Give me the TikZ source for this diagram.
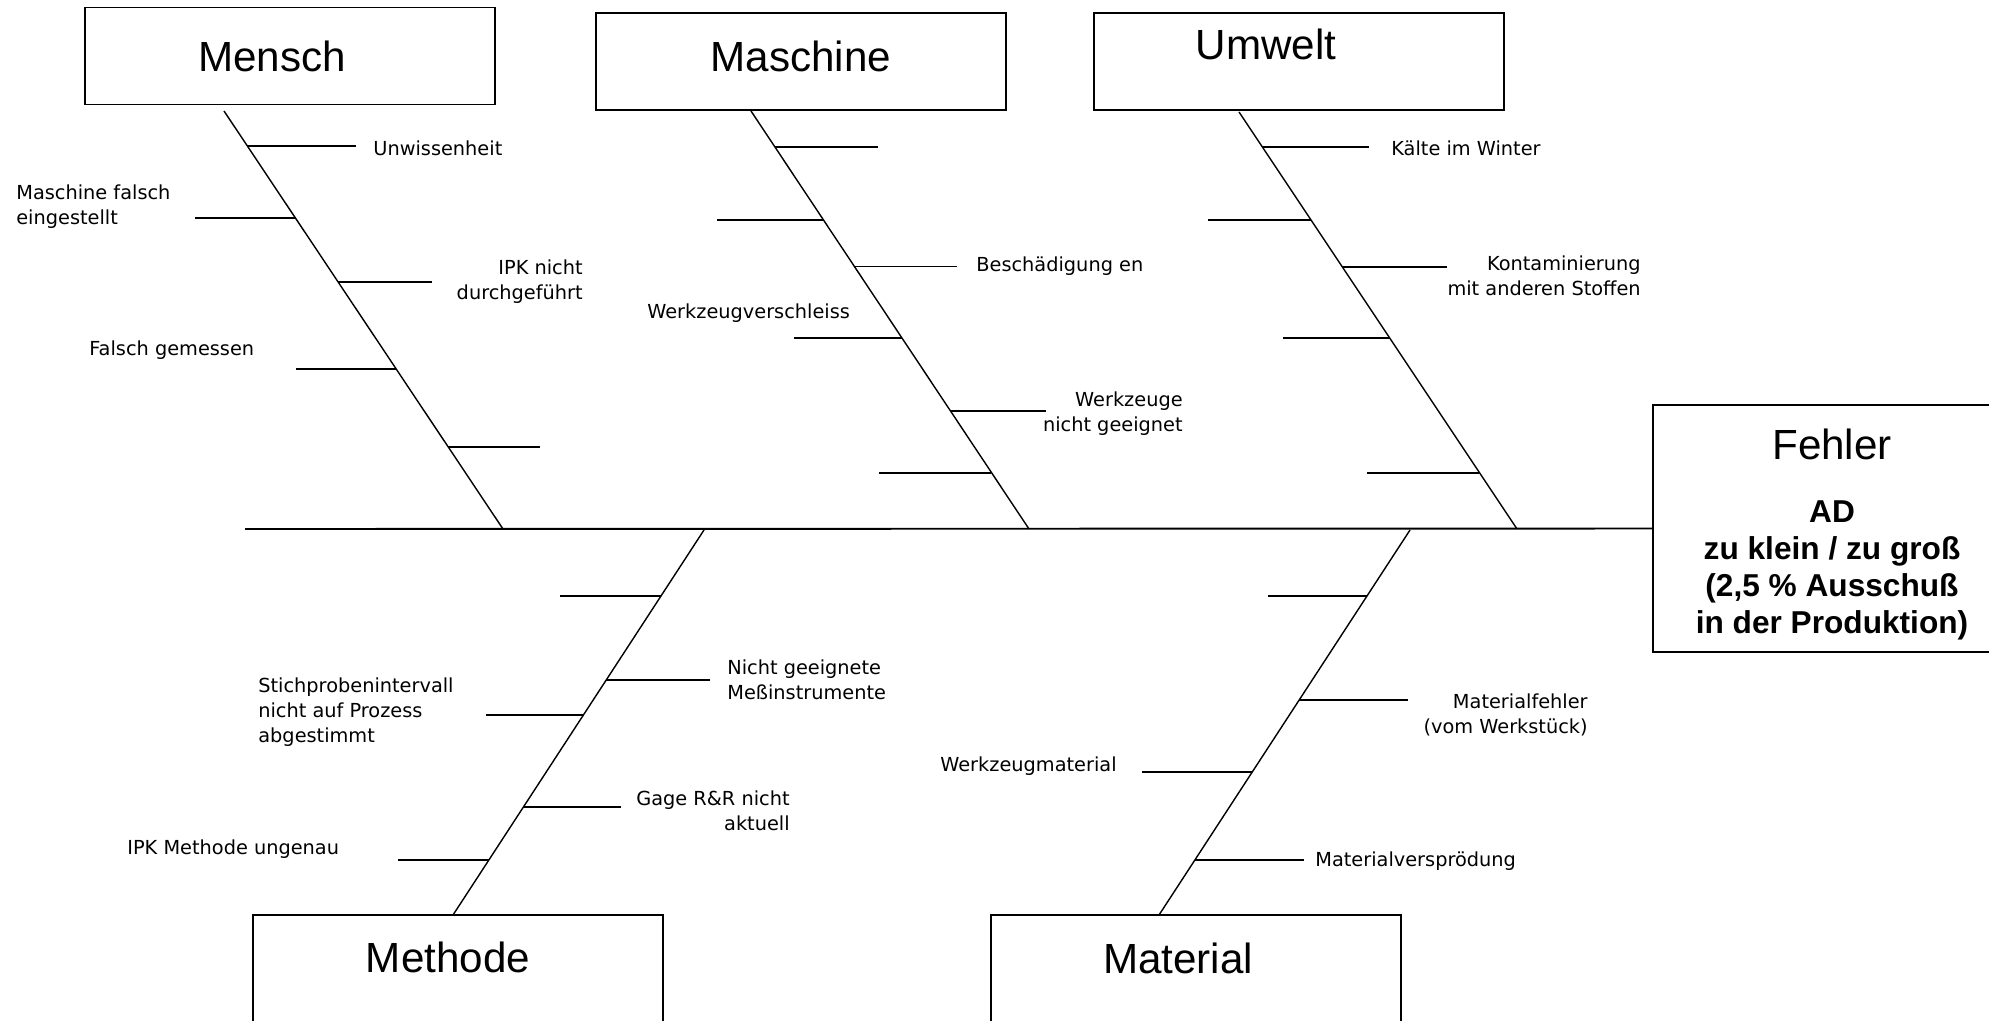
\documentclass[tikz,border=0pt]{standalone}
\usepackage{fontspec}
\setmainfont{Liberation Sans}
\newfontfamily\causefont{DejaVu Sans}
\usetikzlibrary{calc,positioning}

\begin{document}
\begin{tikzpicture}[
catbox/.style={draw, line width=1.1pt, minimum width=8.2cm, minimum height=1.94cm, inner sep=0pt},
lowbox/.style={catbox, minimum height=2.2cm},
cattitle/.style={font=\fontsize{24}{28}\selectfont},
bone/.style={line width=0.8pt},
rib/.style={line width=1.1pt},
cause/.style={font=\causefont\fontsize{11}{14.2}\selectfont, inner sep=0pt}
]

\useasboundingbox (0,0) rectangle (39.78,-20.40);

% ================= BOXES =================
\node[catbox, label={[cattitle, xshift=-0.36cm]center:Mensch}] (mensch) at (5.80,-1.12) {};
\node[catbox, label={[cattitle, yshift=0.11cm]center:Maschine}] (maschine) at (16.02,-1.23) {};
\node[catbox, label={[cattitle, xshift=-0.66cm, yshift=0.35cm]center:Umwelt}] (umwelt) at (25.98,-1.23) {};
\node[lowbox, label={[cattitle, xshift=-0.20cm, yshift=0.26cm]center:Methode}] (methode) at (9.16,-19.40) {};
\node[lowbox, label={[cattitle, xshift=-0.36cm, yshift=0.24cm]center:Material}] (material) at (23.92,-19.40) {};

% Effect
\node[draw, line width=1.1pt, minimum width=6.84cm, minimum height=4.94cm,
label={[align=center, font=\bfseries\fontsize{18}{21}\selectfont, xshift=0.16cm, yshift=-0.12cm]center:
{\mdseries\fontsize{24}{28}\selectfont Fehler}\\[14.7pt]AD\\zu klein / zu groß\\(2,5 \% Ausschuß\\in der Produktion)}]
(fehler) at (36.48,-10.57) {};

% Spine
\coordinate (tail) at (4.90,-10.58);
\draw[line width=1.1pt] (tail) -- (fehler.west);

% ================= UPPER BONES =================
\coordinate (menschTop) at (4.48,-2.22);
\coordinate (menschEnd) at (10.06,-10.58);
\draw[bone] (menschTop) -- (menschEnd);
\foreach \t/\len in {0.083/2.18, 0.257/-2.02, 0.410/1.87, 0.618/-2.00, 0.803/1.84}
\draw[rib] ($(menschTop)!\t!(menschEnd)$) -- ++(\len,0);

\coordinate (maschineTop) at (15.02,-2.22);
\coordinate (maschineEnd) at (20.58,-10.58);
\draw[bone] (maschineTop) -- (maschineEnd);
\foreach \t/\len in {0.085/2.07, 0.260/-2.12, 0.372/2.05, 0.544/-2.17, 0.717/1.92, 0.865/-2.25}
\draw[rib] ($(maschineTop)!\t!(maschineEnd)$) -- ++(\len,0);

\coordinate (umweltTop) at (24.78,-2.24);
\coordinate (umweltEnd) at (30.34,-10.58);
\draw[bone] (umweltTop) -- (umweltEnd);
\foreach \t/\len in {0.083/2.14, 0.258/-2.05, 0.372/2.09, 0.543/-2.14, 0.865/-2.25}
\draw[rib] ($(umweltTop)!\t!(umweltEnd)$) -- ++(\len,0);

% ================= LOWER BONES =================
\coordinate (methodeStart) at (14.08,-10.60);
\coordinate (methodeFoot) at (9.06,-18.30);
\draw[bone] (methodeStart) -- (methodeFoot);
\foreach \t/\len in {0.172/-2.01, 0.389/2.08, 0.480/-1.96, 0.720/1.95, 0.858/-1.82}
\draw[rib] ($(methodeStart)!\t!(methodeFoot)$) -- ++(\len,0);

\coordinate (materialStart) at (28.20,-10.60);
\coordinate (materialFoot) at (23.18,-18.30);
\draw[bone] (materialStart) -- (materialFoot);
\foreach \t/\len in {0.171/-1.98, 0.441/2.18, 0.629/-2.21, 0.858/2.18}
\draw[rib] ($(materialStart)!\t!(materialFoot)$) -- ++(\len,0);

% ================= CAUSES =================
\node[cause, anchor=west] (unwissen) at (7.46,-2.96) {Unwissenheit};
\node[cause, anchor=west, align=left] (falschEin) at (0.32,-4.14) {Maschine falsch\\eingestellt};
\node[cause, anchor=east, align=right] (ipkNicht) at (11.66,-5.63) {IPK nicht\\durchgeführt};
\node[cause, anchor=west] (falschGem) at (1.78,-7.00) {Falsch gemessen};

\node[cause, anchor=west] (beschaed) at (19.52,-5.32) {Beschädigung en};
\node[cause, anchor=west] (verschleiss) at (12.94,-6.26) {Werkzeugverschleiss};
\node[cause, anchor=east, align=right] (ungeeignet) at (23.66,-8.27) {Werkzeuge\\nicht geeignet};

\node[cause, anchor=west] (kaelte) at (27.82,-2.96) {Kälte im Winter};
\node[cause, anchor=east, align=right] (kontam) at (32.82,-5.52) {Kontaminierung\\mit anderen Stoffen};

\node[cause, anchor=west, align=left] (messinst) at (14.54,-13.59) {Nicht geeignete\\Meßinstrumente};
\node[cause, anchor=west, align=left] (stichprobe) at (5.16,-14.25) {Stichprobenintervall\\nicht auf Prozess\\abgestimmt};
\node[cause, anchor=east, align=right] (gage) at (15.80,-16.21) {Gage R\&R nicht\\aktuell};
\node[cause, anchor=west] (ipkMethode) at (2.54,-16.98) {IPK Methode ungenau};

\node[cause, anchor=east, align=right] (matFehler) at (31.76,-14.29) {Materialfehler\\(vom Werkstück)};
\node[cause, anchor=west] (wzMaterial) at (18.80,-15.32) {Werkzeugmaterial};
\node[cause, anchor=west] (verspr) at (26.30,-17.22) {Materialversprödung};

\end{tikzpicture}
\end{document}
